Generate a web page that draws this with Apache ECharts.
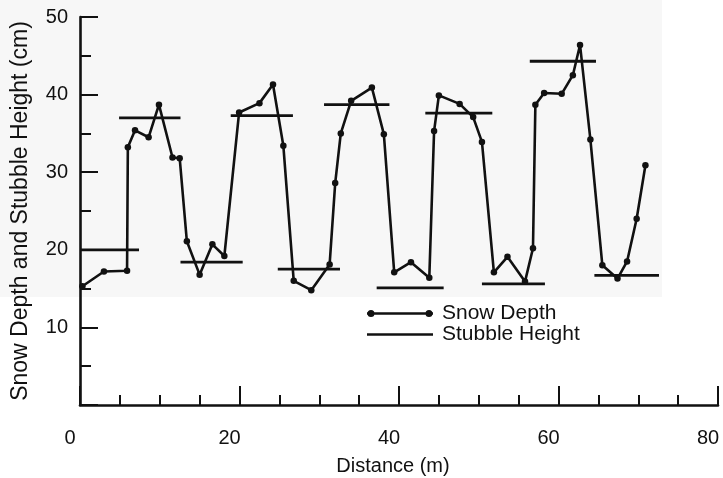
<!DOCTYPE html>
<html>
<head>
<meta charset="utf-8">
<script src="https://cdn.jsdelivr.net/npm/echarts@6/dist/echarts.min.js"></script>
<style>
  html, body { margin: 0; padding: 0; background: #ffffff; }
  #chart { width: 723px; height: 478px; }
</style>
</head>
<body>
<div id="chart"></div>
<script>
// Snow depth transect (distance in m, depth in cm)
var snowDistance = [0.3, 3.0, 5.9, 6.0, 6.9, 8.6, 9.9, 11.6, 12.5, 13.4, 15.0, 16.6,
  18.1, 19.95, 22.5, 24.2, 25.5, 26.8, 29.0, 31.3, 32.0, 32.7, 34.0, 36.6,
  38.1, 39.4, 41.5, 43.8, 44.4, 45.0, 47.6, 49.3, 50.4, 51.9, 53.6, 55.8,
  56.8, 57.1, 58.2, 60.4, 61.8, 62.7, 64.0, 65.5, 67.4, 68.6, 69.8, 70.9];
var snowDepth = [15.3, 17.2, 17.3, 33.2, 35.4, 34.5, 38.7, 31.9, 31.8, 21.1, 16.8, 20.7,
  19.2, 37.7, 38.9, 41.3, 33.4, 16.0, 14.8, 18.1, 28.6, 35.0, 39.2, 40.9,
  34.9, 17.1, 18.4, 16.4, 35.3, 39.9, 38.8, 37.1, 33.9, 17.1, 19.1, 15.9,
  20.2, 38.7, 40.2, 40.1, 42.5, 46.4, 34.2, 18.0, 16.3, 18.5, 24.0, 30.9];

// Stubble strips: start / end distance (m) and height (cm)
var stubbleStart = [0, 4.9, 12.6, 18.9, 24.8, 30.6, 37.2, 43.3, 50.4, 56.4, 64.5];
var stubbleEnd = [7.4, 12.6, 20.4, 26.7, 32.6, 38.8, 45.6, 51.7, 58.3, 64.7, 72.6];
var stubbleHeight = [20.0, 37.0, 18.4, 37.3, 17.5, 38.7, 15.1, 37.6, 15.6, 44.3, 16.7];

// Axis tick labels
var xTickLabels = [0, 20, 40, 60, 80];
var yTickLabels = [10, 20, 30, 40, 50];

var INK = '#111111';
var FONT = '"Liberation Sans", Arial, Helvetica, sans-serif';

var snowData = snowDistance.map(function (d, i) { return [d, snowDepth[i]]; });

var stubbleSeries = stubbleStart.map(function (s, i) {
  return {
    name: 'Stubble Height',
    type: 'line',
    data: [[s, stubbleHeight[i]], [stubbleEnd[i], stubbleHeight[i]]],
    symbol: 'none',
    lineStyle: { color: INK, width: 2.8 },
    itemStyle: { color: INK },
    z: 3,
    animation: false
  };
});

var snowIcon = 'path://M0,2.7 L66,2.7 L66,5.3 L0,5.3 Z ' +
  'M0.5,4 A3.5,3.5 0 1,1 7.5,4 A3.5,3.5 0 1,1 0.5,4 Z ' +
  'M58.5,4 A3.5,3.5 0 1,1 65.5,4 A3.5,3.5 0 1,1 58.5,4 Z';
var stubbleIcon = 'path://M0,2.7 L66,2.7 L66,5.3 L0,5.3 Z';

var chart = echarts.init(document.getElementById('chart'), null, { renderer: 'canvas' });

chart.setOption({
  backgroundColor: '#ffffff',
  animation: false,
  graphic: [{
    type: 'rect',
    z: -10,
    silent: true,
    shape: { x: 0, y: 0, width: 662, height: 297 },
    style: { fill: '#f7f7f7' }
  }],
  grid: { left: 80, right: 5, top: 17, bottom: 73, containLabel: false, outerBoundsMode: 'none' },
  legend: {
    orient: 'vertical',
    left: 362,
    top: 298,
    itemWidth: 66,
    itemHeight: 8,
    itemGap: 0,
    selectedMode: false,
    data: [
      { name: 'Snow Depth', icon: snowIcon },
      { name: 'Stubble Height', icon: stubbleIcon }
    ],
    itemStyle: { color: INK, borderWidth: 0 },
    lineStyle: { width: 0 },
    textStyle: { color: INK, fontSize: 21, fontFamily: FONT, lineHeight: 20, padding: [0, 0, 0, 4] }
  },
  xAxis: {
    type: 'value',
    min: 0,
    max: 80,
    interval: 20,
    name: 'Distance (m)',
    nameLocation: 'middle',
    nameGap: 51,
    nameTextStyle: { color: INK, fontSize: 20, fontFamily: FONT, padding: [0, 12, 0, 0] },
    axisLine: { show: true, onZero: false, lineStyle: { color: INK, width: 2.6 } },
    axisTick: { show: true, inside: true, length: 19, lineStyle: { color: INK, width: 2 } },
    minorTick: { show: true, splitNumber: 4, length: 10, lineStyle: { color: INK, width: 2 } },
    splitLine: { show: false },
    axisLabel: {
      color: INK, fontSize: 20, fontFamily: FONT, margin: 23,
      padding: [0, 20, 0, 0],
      formatter: function (v) { return xTickLabels.indexOf(v) >= 0 ? String(v) : ''; }
    }
  },
  yAxis: {
    type: 'value',
    min: 0,
    max: 50,
    interval: 10,
    name: 'Snow Depth and Stubble Height (cm)',
    nameLocation: 'middle',
    nameGap: 48,
    nameTextStyle: { color: INK, fontSize: 23, fontFamily: FONT },
    axisLine: { show: true, onZero: false, lineStyle: { color: INK, width: 2.6 } },
    axisTick: { show: true, inside: true, length: 18, lineStyle: { color: INK, width: 2 } },
    minorTick: { show: true, splitNumber: 2, length: 11, lineStyle: { color: INK, width: 2 } },
    splitLine: { show: false },
    axisLabel: {
      color: INK, fontSize: 20, fontFamily: FONT, margin: 12,
      formatter: function (v) { return yTickLabels.indexOf(v) >= 0 ? String(v) : ''; }
    }
  },
  series: [{
    name: 'Snow Depth',
    type: 'line',
    data: snowData,
    symbol: 'circle',
    symbolSize: 6.5,
    showAllSymbol: true,
    lineStyle: { color: INK, width: 2.6 },
    itemStyle: { color: INK },
    z: 4,
    animation: false
  }].concat(stubbleSeries)
});
</script>
</body>
</html>
